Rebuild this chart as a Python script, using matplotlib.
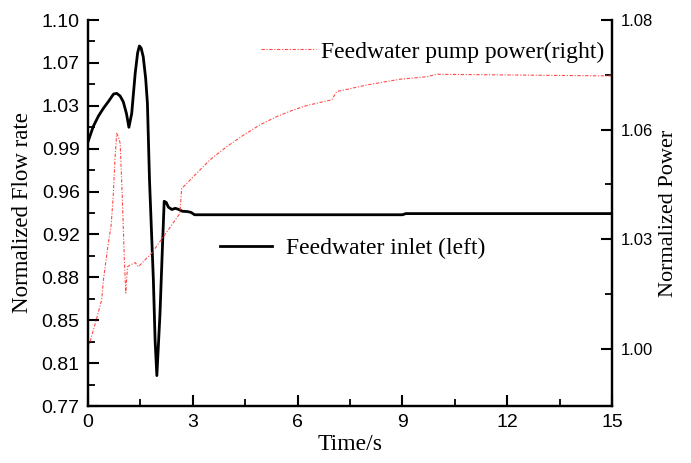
import numpy as np
import matplotlib
matplotlib.use("Agg")
import matplotlib.pyplot as plt
from matplotlib.ticker import FixedLocator

# Feedwater inlet flow (left axis)
t_flow = [0.0, 0.15, 0.3, 0.44, 0.6, 0.73, 0.82, 0.92, 1.01, 1.1, 1.17, 1.25, 1.35,
          1.42, 1.47, 1.52, 1.58, 1.65, 1.70, 1.76, 1.87, 1.92, 1.97, 2.06, 2.13,
          2.18, 2.24, 2.3, 2.4, 2.5, 2.6, 2.7, 2.85, 2.95, 3.05, 9.0, 9.1, 15.0]
flow = [0.996, 1.009, 1.018, 1.0245, 1.031, 1.0367, 1.0373, 1.035, 1.030, 1.020,
        1.0083, 1.020, 1.0544, 1.072, 1.0778, 1.076, 1.0686, 1.050, 1.0288, 0.963,
        0.878, 0.826, 0.796, 0.849, 0.906, 0.945, 0.944, 0.940, 0.938, 0.939, 0.938,
        0.9365, 0.9362, 0.9355, 0.9335, 0.9335, 0.9345, 0.9345]

# Feedwater pump power (right axis)
t_pow = [0.0, 0.2, 0.39, 0.44, 0.58, 0.66, 0.72, 0.77, 0.82, 0.87, 0.92, 0.98,
         1.04, 1.08, 1.13, 1.2, 1.35, 1.44, 1.82, 2.3, 2.63, 2.68, 3.06, 3.49,
         3.97, 4.45, 4.92, 5.4, 5.87, 6.26, 6.98, 7.12, 7.98, 8.93, 9.70, 9.98, 15.0]
power = [1.000, 1.006, 1.0119, 1.0168, 1.0257, 1.030, 1.037, 1.046, 1.0524, 1.0516,
         1.050, 1.037, 1.0216, 1.0136, 1.020, 1.0204, 1.021, 1.020, 1.0233, 1.029,
         1.033, 1.039, 1.0423, 1.046, 1.0492, 1.052, 1.0545, 1.0565, 1.0581, 1.0592,
         1.0606, 1.0626, 1.0642, 1.0656, 1.0662, 1.0668, 1.0664]

left_ticks = np.linspace(0.77, 1.10, 10)
left_labels = ["0.77", "0.81", "0.85", "0.88", "0.92", "0.96", "0.99", "1.03", "1.07", "1.10"]
right_ticks = np.linspace(1.00, 1.08, 4)
right_labels = ["1.00", "1.03", "1.06", "1.08"]
x_ticks = [0, 3, 6, 9, 12, 15]

serif = "Liberation Serif"
sans = "Liberation Sans"

fig = plt.figure(figsize=(6.91, 4.63), dpi=100)
ax = fig.add_axes([0.1274, 0.1231, 0.7583, 0.8337])
ax2 = ax.twinx()

l1, = ax.plot(t_flow, flow, color="black", lw=2.0, solid_joinstyle="round")
l2, = ax2.plot(t_pow, power, color="#ff4a4a", lw=0.8, dashes=(3, 1.5, 1, 1.5))

ax.set_xlim(0, 15)
ax.set_ylim(0.77, 1.10)
ax2.set_ylim(1.0 - 0.52 * (0.08 / 3), 1.08)

ax.set_xticks(x_ticks)
ax.xaxis.set_minor_locator(FixedLocator(np.arange(1.5, 15, 3)))
ax.set_yticks(left_ticks)
ax.set_yticklabels(left_labels)
step = left_ticks[1] - left_ticks[0]
ax.yaxis.set_minor_locator(FixedLocator(left_ticks[:-1] + step / 2))
ax2.set_yticks(right_ticks)
ax2.set_yticklabels(right_labels)
rstep = right_ticks[1] - right_ticks[0]
ax2.yaxis.set_minor_locator(FixedLocator(right_ticks[:-1] + rstep / 2))

for a in (ax, ax2):
    a.spines["top"].set_visible(False)
    for s in a.spines.values():
        s.set_linewidth(1.6)
    a.tick_params(which="major", direction="in", length=8, width=1.5, labelsize=14)
    a.tick_params(which="minor", direction="in", length=5, width=1.3)
    for lab in a.get_xticklabels() + a.get_yticklabels():
        lab.set_fontfamily(sans)
ax.tick_params(axis="y", pad=6)
ax2.tick_params(axis="y", labelsize=12, pad=6)
ax.tick_params(axis="x", pad=6)
ax.tick_params(axis="x", which="both", top=False)
ax2.tick_params(axis="x", which="both", top=False, bottom=False)

ax.set_xlabel("Time/s", fontsize=17, family=serif)
ax.xaxis.set_label_coords(0.5, -0.072)
ax.set_ylabel("Normalized Flow rate", fontsize=16.5, family=serif)
ax.yaxis.set_label_coords(-0.105, 0.5)
ax2.set_ylabel("Normalized Power", fontsize=16, family=serif, rotation=90)
ax2.yaxis.set_label_coords(1.09, 0.5)

leg2 = ax2.legend([l2], ["Feedwater pump power(right)"], frameon=False,
                  prop={"family": serif, "size": 17}, handlelength=2.3,
                  handletextpad=0.25, borderpad=0, borderaxespad=0,
                  loc="center left", bbox_to_anchor=(0.378, 0.888),
                  bbox_transform=fig.transFigure)
leg1 = ax2.legend([l1], ["Feedwater inlet (left)"], frameon=False,
                  prop={"family": serif, "size": 17}, handlelength=2.2,
                  handletextpad=0.6, borderpad=0, borderaxespad=0,
                  loc="center left", bbox_to_anchor=(0.318, 0.464),
                  bbox_transform=fig.transFigure)
ax2.add_artist(leg2)

fig.savefig("out.png", dpi=100)
